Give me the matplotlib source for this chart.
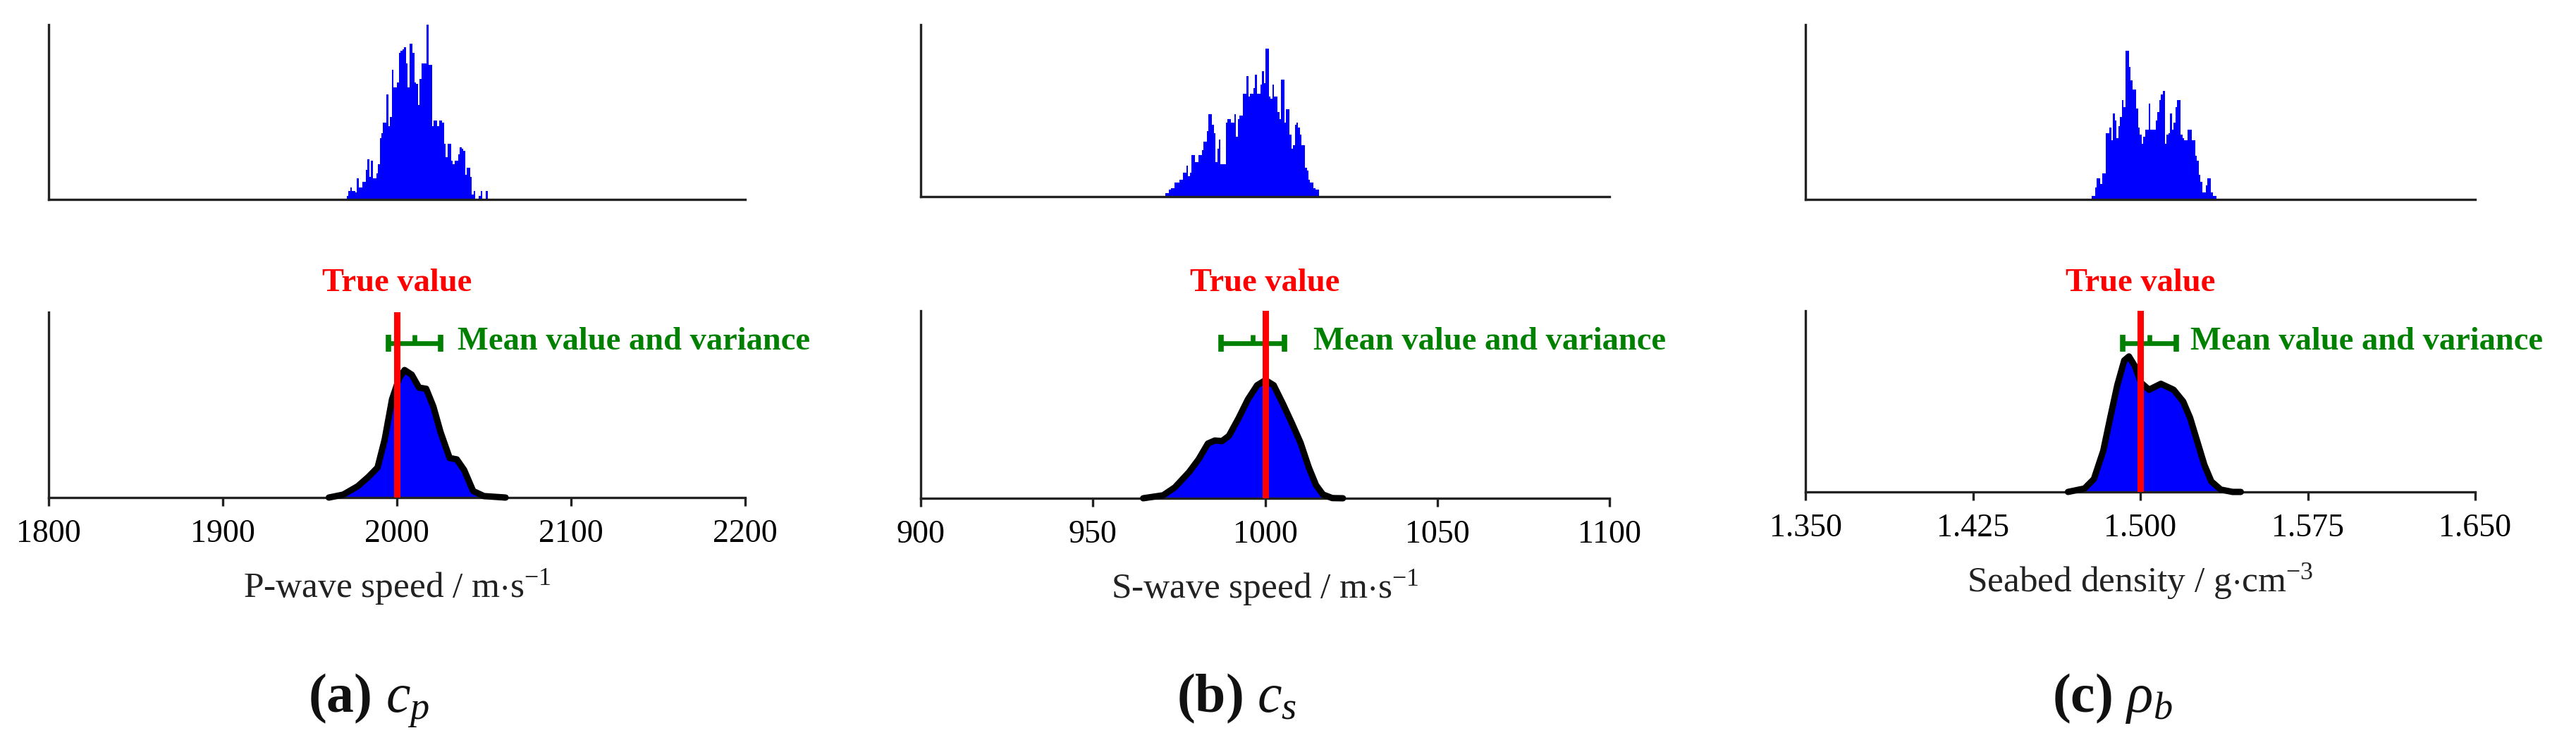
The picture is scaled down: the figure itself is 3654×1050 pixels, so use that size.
import numpy as np
import matplotlib
matplotlib.use("Agg")
import matplotlib.pyplot as plt
from matplotlib.transforms import blended_transform_factory

plt.rcParams['font.family'] = 'Liberation Serif'
plt.rcParams['mathtext.fontset'] = 'custom'
plt.rcParams['mathtext.rm'] = 'Liberation Serif'
plt.rcParams['mathtext.it'] = 'Liberation Serif:italic'
plt.rcParams['mathtext.bf'] = 'Liberation Serif:bold'

# ---- data ----
# top row: histogram bar heights (percent of axes height), first edge and bin width
hist_a = [2, 5, 7, 5, 5, 4, 12, 7, 7, 10,
          10, 17, 23, 13, 22, 12, 12, 15, 20, 35,
          38, 44, 44, 60, 42, 47, 74, 64, 64, 67,
          84, 85, 86, 87, 78, 64, 89, 89, 84, 67,
          66, 54, 69, 78, 78, 78, 100, 77, 77, 42,
          45, 45, 42, 45, 45, 44, 32, 24, 32, 32,
          22, 20, 22, 22, 26, 30, 29, 28, 14, 18,
          18, 13, 3, 5, 0, 0, 2, 5, 0, 0, 5]
hist_b = [2, 2, 4, 5, 5, 8, 8, 8, 10, 10,
          14, 14, 18, 12, 14, 24, 24, 20, 20, 24,
          24, 27, 32, 32, 38, 48, 48, 42, 37, 20,
          28, 33, 19, 19, 19, 43, 45, 45, 43, 43,
          48, 35, 45, 47, 47, 60, 60, 70, 58, 60,
          60, 63, 71, 60, 60, 65, 73, 66, 86, 86,
          58, 57, 65, 58, 58, 49, 45, 68, 68, 43,
          51, 51, 36, 28, 30, 42, 43, 40, 36, 30,
          30, 17, 15, 10, 8, 8, 5, 4, 4]
hist_c = [2, 2, 7, 12, 12, 9, 15, 15, 38, 38,
          41, 34, 49, 45, 35, 42, 47, 57, 53, 85,
          85, 76, 68, 63, 63, 52, 41, 37, 32, 36,
          40, 40, 55, 40, 40, 40, 45, 50, 57, 60,
          62, 32, 37, 38, 49, 40, 44, 53, 57, 57,
          37, 35, 34, 34, 40, 40, 34, 34, 25, 22,
          14, 10, 4, 4, 8, 12, 12, 4, 2, 2]
hist_start = [1971.1, 971.1, 1.4781]
hist_width = [1.0, 0.5, 0.0008]

# bottom row: density curves (height as fraction of axes height)
kde_a_x = [1960.9, 1969.2, 1977.5, 1983.7, 1988.9, 1993.0, 1997.2, 2001.3, 2004.4, 2008.5,
           2012.7, 2016.8, 2020.9, 2025.1, 2030.3, 2034.4, 2038.6, 2043.8, 2050.0, 2062.4]
kde_a_y = [0, 0.016, 0.061, 0.112, 0.162, 0.314, 0.530, 0.644, 0.688, 0.663,
           0.593, 0.587, 0.492, 0.352, 0.213, 0.206, 0.149, 0.035, 0.008, 0]
kde_b_x = [964.6, 970.4, 973.8, 977.9, 980.7, 983.4, 985.4, 987.5, 989.5, 992.3, 995.0,
           997.7, 1000.1, 1002.5, 1005.2, 1007.9, 1010.3, 1012.7, 1014.8, 1016.8, 1019.5, 1022.6]
kde_b_y = [0, 0.016, 0.058, 0.139, 0.208, 0.292, 0.308, 0.305, 0.333, 0.427, 0.527,
           0.603, 0.630, 0.603, 0.503, 0.396, 0.296, 0.164, 0.070, 0.020, 0.001, 0]
kde_c_x = [1.4676, 1.4750, 1.4792, 1.4834, 1.4865, 1.4897, 1.4928, 1.4949, 1.4976, 1.5003, 1.5039,
           1.5092, 1.5149, 1.5192, 1.5223, 1.5255, 1.5287, 1.5318, 1.5360, 1.5413, 1.5450]
kde_c_y = [0, 0.019, 0.071, 0.227, 0.409, 0.590, 0.726, 0.748, 0.694, 0.603, 0.564,
           0.597, 0.564, 0.499, 0.409, 0.279, 0.149, 0.058, 0.013, 0, 0]

true_vals = [2000, 1000, 1.500]
mean_vals = [2010, 996.5, 1.504]
spread_vals = [15, 9.2, 0.012]

xlims = [(1800, 2200), (900, 1100), (1.350, 1.650)]
xticks = [[1800, 1900, 2000, 2100, 2200],
          [900, 950, 1000, 1050, 1100],
          [1.350, 1.425, 1.500, 1.575, 1.650]]
xticklabels = [['1800', '1900', '2000', '2100', '2200'],
               ['900', '950', '1000', '1050', '1100'],
               ['1.350', '1.425', '1.500', '1.575', '1.650']]
xlabels = [r'P-wave speed / m$\cdot$s$^{-1}$',
           r'S-wave speed / m$\cdot$s$^{-1}$',
           r'Seabed density / g$\cdot$cm$^{-3}$']
captions = [r'$\mathbf{(a)}$ $c_p$', r'$\mathbf{(b)}$ $c_s$', r'$\mathbf{(c)}$ $\rho_b$']

hists = [hist_a, hist_b, hist_c]
kdes = [(kde_a_x, kde_a_y), (kde_b_x, kde_b_y), (kde_c_x, kde_c_y)]

# ---- layout (pixel boxes in a 3654x1050 canvas) ----
W, H = 3654, 1050
top_boxes = [(69, 35, 1057, 283), (1306, 35, 2283, 279), (2561, 35, 3511, 283)]
bot_boxes = [(69, 443, 1057, 706), (1306, 441, 2283, 707), (2561, 441, 3511, 698)]
mean_text_x = [2034.8, 1014.0, 1.5223]


def rect(box):
    x0, y0, x1, y1 = box
    return [x0 / W, 1 - y1 / H, (x1 - x0) / W, (y1 - y0) / H]


def style_axes(ax):
    for s in ['top', 'right']:
        ax.spines[s].set_visible(False)
    for s in ['left', 'bottom']:
        ax.spines[s].set_linewidth(2.4)
        ax.spines[s].set_color('#222222')
    ax.set_yticks([])


fig = plt.figure(figsize=(W / 100, H / 100), dpi=100)

for i in range(3):
    # top: histogram of samples
    ax1 = fig.add_axes(rect(top_boxes[i]))
    style_axes(ax1)
    edges = hist_start[i] + hist_width[i] * np.arange(len(hists[i]) + 1)
    ax1.stairs(hists[i], edges, fill=True, color='blue', linewidth=0)
    ax1.set_xlim(*xlims[i])
    ax1.set_ylim(0, 100)
    ax1.set_xticks([])

    # bottom: density with true value and mean +- spread
    ax2 = fig.add_axes(rect(bot_boxes[i]))
    style_axes(ax2)
    kx, ky = kdes[i]
    ax2.fill_between(kx, ky, 0, color='blue', linewidth=0, zorder=2)
    ax2.plot(kx, ky, color='black', lw=6.5, solid_capstyle='round',
             solid_joinstyle='round', clip_on=False, zorder=3)
    ax2.axvline(true_vals[i], color='red', lw=6.5, zorder=6)
    ax2.set_xlim(*xlims[i])
    ax2.set_ylim(0, 1)
    ax2.set_xticks(xticks[i])
    ax2.set_xticklabels(xticklabels[i])
    ax2.tick_params(axis='x', direction='out', length=8.6, width=2.4,
                    color='#222222', labelsize=33, pad=13.5)

    x0, _, x1, y1 = bot_boxes[i]
    lab_tr = blended_transform_factory(ax2.transAxes, fig.transFigure)
    ax2.text(0.5, 1 - (y1 + 141) / H, xlabels[i], transform=lab_tr,
             ha='center', va='baseline', fontsize=37, color='#222222')

    tr = blended_transform_factory(ax2.transData, fig.transFigure)
    ax2.text(true_vals[i], 0.607, 'True value', transform=tr, ha='center',
             va='baseline', color='red', fontweight='bold', fontsize=33.5)
    ax2.errorbar(mean_vals[i], 0.5362, xerr=spread_vals[i], fmt='none',
                 ecolor='green', elinewidth=4.8, capsize=8.6, capthick=5.5,
                 transform=tr, clip_on=False, zorder=4)
    ax2.plot(mean_vals[i], 0.5362, marker=2, ms=9, mew=4.8, color='green',
             transform=tr, clip_on=False, zorder=4)
    ax2.text(mean_text_x[i], 0.5276, 'Mean value and variance', transform=tr,
             ha='left', va='baseline', color='green', fontweight='bold', fontsize=33.5)

    fig.text(((x0 + x1) / 2 - 40) / W, 1 - 1010 / H, captions[i], ha='center',
             va='baseline', fontsize=56, color='#111111')

fig.savefig('out.png', dpi=100)
